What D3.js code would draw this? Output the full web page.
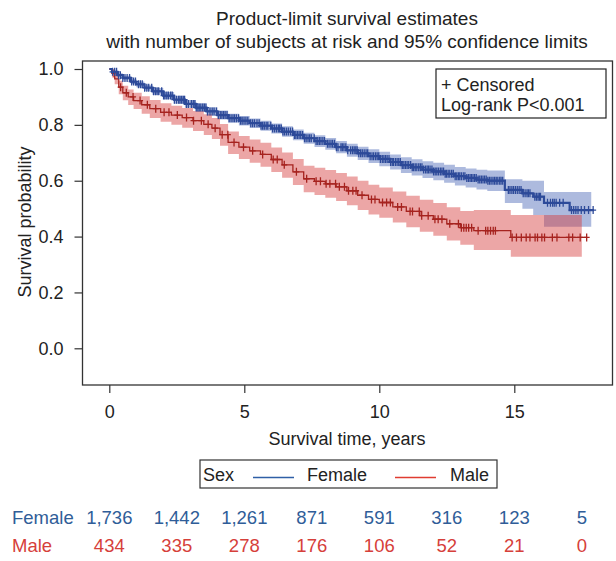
<!DOCTYPE html>
<html>
<head>
<meta charset="utf-8">
<script src="https://cdn.jsdelivr.net/npm/d3@7"></script>
<style>
body { margin: 0; background: #fff; }
text { font-family: "Liberation Sans", Arial, sans-serif; fill: #222; }
</style>
</head>
<body>
<svg width="616" height="561"></svg>
<script>
// Kaplan-Meier steps: [time, survival, lower CL, upper CL]
var femaleSteps = [
  [0, 1.0, 1.0, 1.0], [0.1, 0.99, 0.985, 0.995], [0.3, 0.978, 0.971, 0.985],
  [0.5, 0.968, 0.96, 0.976], [0.8, 0.955, 0.946, 0.964], [1.0, 0.945, 0.935, 0.955],
  [1.3, 0.933, 0.922, 0.944], [1.6, 0.92, 0.908, 0.932], [2.0, 0.905, 0.892, 0.918],
  [2.4, 0.89, 0.876, 0.904], [2.8, 0.875, 0.861, 0.889], [3.2, 0.862, 0.847, 0.877],
  [3.6, 0.848, 0.833, 0.863], [4.0, 0.835, 0.819, 0.851], [4.4, 0.824, 0.808, 0.840],
  [4.8, 0.815, 0.798, 0.832], [5.2, 0.806, 0.789, 0.823], [5.6, 0.797, 0.779, 0.815],
  [6.0, 0.787, 0.769, 0.805], [6.4, 0.776, 0.757, 0.795], [6.8, 0.764, 0.745, 0.783],
  [7.2, 0.752, 0.732, 0.772], [7.6, 0.742, 0.721, 0.763], [8.0, 0.732, 0.711, 0.753],
  [8.4, 0.72, 0.698, 0.742], [8.8, 0.709, 0.686, 0.732], [9.2, 0.698, 0.674, 0.722],
  [9.6, 0.688, 0.663, 0.713], [10.0, 0.678, 0.652, 0.704], [10.4, 0.667, 0.640, 0.694],
  [10.8, 0.656, 0.628, 0.684], [11.2, 0.648, 0.619, 0.677], [11.6, 0.640, 0.610, 0.670],
  [12.0, 0.633, 0.602, 0.664], [12.4, 0.625, 0.593, 0.657], [12.8, 0.616, 0.583, 0.649],
  [13.2, 0.610, 0.576, 0.644], [13.6, 0.604, 0.569, 0.639], [14.0, 0.600, 0.563, 0.637],
  [14.65, 0.567, 0.52, 0.605], [15.3, 0.555, 0.50, 0.60], [15.7, 0.543, 0.477, 0.60],
  [16.1, 0.521, 0.435, 0.56], [17.05, 0.495, 0.435, 0.56]
];
var femaleEnd = 17.95, femaleBandEnd = 17.85;

var maleSteps = [
  [0, 1.0, 1.0, 1.0], [0.1, 0.985, 0.97, 0.998], [0.2, 0.965, 0.945, 0.982],
  [0.35, 0.935, 0.91, 0.958], [0.5, 0.915, 0.888, 0.94], [0.7, 0.9, 0.871, 0.927],
  [0.9, 0.887, 0.857, 0.915], [1.2, 0.872, 0.84, 0.902], [1.5, 0.858, 0.825, 0.889],
  [1.9, 0.845, 0.811, 0.877], [2.3, 0.835, 0.80, 0.868], [2.7, 0.826, 0.79, 0.86],
  [3.1, 0.815, 0.778, 0.85], [3.5, 0.802, 0.764, 0.838], [3.8, 0.788, 0.749, 0.825],
  [4.1, 0.765, 0.725, 0.803], [4.4, 0.737, 0.696, 0.776], [4.8, 0.72, 0.678, 0.76],
  [5.2, 0.707, 0.664, 0.748], [5.6, 0.694, 0.65, 0.736], [6.0, 0.676, 0.631, 0.719],
  [6.4, 0.657, 0.611, 0.701], [6.8, 0.632, 0.585, 0.678], [7.2, 0.607, 0.559, 0.654],
  [7.6, 0.598, 0.549, 0.646], [8.0, 0.589, 0.539, 0.638], [8.4, 0.578, 0.527, 0.628],
  [8.8, 0.564, 0.512, 0.615], [9.2, 0.548, 0.495, 0.6], [9.6, 0.533, 0.479, 0.586],
  [10.0, 0.522, 0.467, 0.576], [10.5, 0.506, 0.45, 0.561], [11.0, 0.49, 0.433, 0.546],
  [11.5, 0.475, 0.417, 0.532], [12.0, 0.462, 0.403, 0.52], [12.5, 0.446, 0.386, 0.505],
  [13.0, 0.432, 0.371, 0.492], [13.5, 0.421, 0.352, 0.495], [14.87, 0.397, 0.328, 0.477]
];
var maleEnd = 17.68, maleBandEnd = 17.5;

var femaleCensored = [0.12, 0.2, 0.27, 0.34, 0.41, 0.5, 0.58, 0.66, 0.75, 0.83, 0.9, 0.97, 1.08, 1.15,
  1.22, 1.31, 1.39, 1.46, 1.57, 1.64, 1.71, 1.77, 1.83, 1.94, 2.01, 2.06, 2.13, 2.19, 2.27, 2.33, 2.41,
  2.49, 2.57, 2.62, 2.68, 2.74, 2.79, 2.86, 2.93, 3.04, 3.11, 3.17, 3.22, 3.28, 3.33, 3.39, 3.46, 3.52,
  3.58, 3.64, 3.73, 3.81, 3.88, 3.97, 4.04, 4.11, 4.17, 4.23, 4.29, 4.36, 4.44, 4.51, 4.58, 4.64, 4.71,
  4.79, 4.86, 4.92, 4.99, 5.06, 5.13, 5.24, 5.31, 5.38, 5.47, 5.55, 5.62, 5.68, 5.74, 5.81, 5.87, 5.98,
  6.05, 6.12, 6.19, 6.26, 6.31, 6.37, 6.43, 6.49, 6.56, 6.63, 6.71, 6.79, 6.86, 6.91, 6.97, 7.03, 7.09,
  7.16, 7.23, 7.29, 7.36, 7.42, 7.48, 7.59, 7.66, 7.72, 7.78, 7.84, 7.91, 7.97, 8.08, 8.14, 8.21, 8.27,
  8.34, 8.41, 8.47, 8.58, 8.63, 8.69, 8.76, 8.83, 8.94, 9.01, 9.07, 9.13, 9.18, 9.24, 9.31, 9.37, 9.44,
  9.51, 9.57, 9.66, 9.73, 9.79, 9.86, 9.92, 9.98, 10.04, 10.11, 10.17, 10.23, 10.29, 10.36, 10.42,
  10.48, 10.53, 10.6, 10.66, 10.72, 10.78, 10.85, 10.91, 10.97, 11.03, 11.09, 11.16, 11.22, 11.27,
  11.33, 11.39, 11.46, 11.52, 11.58, 11.64, 11.71, 11.77, 11.82, 11.88, 11.95, 12.01, 12.07, 12.13,
  12.19, 12.26, 12.32, 12.38, 12.44, 12.49, 12.55, 12.61, 12.68, 12.74, 12.81, 12.87, 12.93, 12.98,
  13.04, 13.11, 13.17, 13.24, 13.3, 13.36, 13.41, 13.47, 13.53, 13.59, 13.66, 13.72, 13.78, 13.84,
  13.9, 13.96, 14.02, 14.08, 14.14, 14.21, 14.27, 14.33, 14.39, 14.46, 14.51, 14.57, 14.78, 14.84,
  14.91, 14.97, 15.04, 15.11, 15.18, 15.25, 15.33, 15.4, 15.47, 15.52, 15.58, 15.76, 15.82, 15.88,
  15.93, 15.97, 16.23, 16.34, 16.42, 16.48, 16.55, 16.68, 16.81, 17.12, 17.2, 17.28, 17.36, 17.48,
  17.6, 17.75, 17.92];
var maleCensored = [0.18, 0.42, 0.63, 0.88, 1.14, 1.41, 1.72, 2.03, 2.21, 2.52, 2.86, 3.12, 3.41, 3.66,
  3.92, 4.18, 4.39, 4.62, 4.97, 5.31, 5.68, 6.07, 6.22, 6.48, 6.93, 7.31, 7.66, 7.82, 8.03, 8.17, 8.38,
  8.52, 8.71, 8.86, 9.02, 9.14, 9.36, 9.71, 9.84, 10.12, 10.27, 10.41, 10.68, 10.82, 11.14, 11.23,
  11.48, 11.57, 11.81, 12.06, 12.18, 12.32, 12.61, 12.93, 13.04, 13.13, 13.22, 13.31, 13.42, 13.66,
  13.94, 14.02, 14.12, 14.22, 14.3, 14.92, 15.08, 15.26, 15.44, 15.58, 15.77, 15.86, 16.02, 16.12,
  16.41, 16.58, 17.02, 17.16, 17.44, 17.68];

var xTicks = [0, 5, 10, 15];
var yTicks = [0.0, 0.2, 0.4, 0.6, 0.8, 1.0];
var riskTimes = [0, 2.5, 5, 7.5, 10, 12.5, 15, 17.5];
var femaleRisk = ["1,736", "1,442", "1,261", "871", "591", "316", "123", "5"];
var maleRisk = ["434", "335", "278", "176", "106", "52", "21", "0"];

var svg = d3.select("svg");
var pLeft = 82.5, pRight = 612.5, pTop = 61, pBottom = 385;

var x = d3.scaleLinear().domain([0, 15]).range([109.3, 514.3]);
var y = d3.scaleLinear().domain([0, 1]).range([348.3, 69]);

var groups = [
  {name: "Female", steps: femaleSteps, end: femaleEnd, bandEnd: femaleBandEnd, cens: femaleCensored,
   line: "#2d4a99", band: "#4a66b5", key: "#2f5fa6", text: "#2f5d98", risk: femaleRisk, lw: 2.2},
  {name: "Male", steps: maleSteps, end: maleEnd, bandEnd: maleBandEnd, cens: maleCensored,
   line: "#a6231f", band: "#d43a3a", key: "#e03c31", text: "#d6403a", risk: maleRisk, lw: 1.3}
];

function survAt(steps, t) {
  var s = steps[0][1];
  steps.forEach(function(d) { if (d[0] <= t) s = d[1]; });
  return s;
}

// title
svg.append("text").attr("x", 347).attr("y", 25).attr("text-anchor", "middle")
  .attr("font-size", "19px").text("Product-limit survival estimates");
svg.append("text").attr("x", 347).attr("y", 48).attr("text-anchor", "middle")
  .attr("font-size", "19px").text("with number of subjects at risk and 95% confidence limits");

svg.append("defs").append("clipPath").attr("id", "clip")
  .append("rect").attr("x", pLeft).attr("y", pTop).attr("width", pRight - pLeft).attr("height", pBottom - pTop);
var plot = svg.append("g").attr("clip-path", "url(#clip)");

// bands
groups.forEach(function(g) {
  var pts = g.steps.concat([[g.bandEnd].concat(g.steps[g.steps.length - 1].slice(1))]);
  var area = d3.area().curve(d3.curveStepAfter)
    .x(function(d) { return x(d[0]); })
    .y0(function(d) { return y(d[2]); })
    .y1(function(d) { return y(d[3]); });
  plot.append("path").attr("d", area(pts))
    .attr("fill", g.band).attr("fill-opacity", 0.45).attr("stroke", "none");
});

// curves and censor marks
groups.slice().reverse().forEach(function(g) {
  var pts = g.steps.concat([[g.end].concat(g.steps[g.steps.length - 1].slice(1))]);
  var line = d3.line().curve(d3.curveStepAfter)
    .x(function(d) { return x(d[0]); })
    .y(function(d) { return y(d[1]); });
  plot.append("path").attr("d", line(pts))
    .attr("fill", "none").attr("stroke", g.line).attr("stroke-width", g.lw);
  plot.append("g").selectAll("path").data(g.cens).enter().append("path")
    .attr("d", function(t) {
      var cx = x(t), cy = y(survAt(g.steps, t));
      return "M" + cx + "," + (cy - 4) + "V" + (cy + 4) + "M" + (cx - 3) + "," + cy + "H" + (cx + 3);
    })
    .attr("stroke", g.line).attr("stroke-width", 1.3).attr("fill", "none");
});

// frame
svg.append("rect").attr("x", pLeft).attr("y", pTop).attr("width", pRight - pLeft).attr("height", pBottom - pTop)
  .attr("fill", "none").attr("stroke", "#333").attr("stroke-width", 1.3);

// axes
var xAxis = svg.append("g").attr("transform", "translate(0," + pBottom + ")")
  .call(d3.axisBottom(x).tickValues(xTicks).tickSize(8).tickPadding(12).tickFormat(d3.format("d")));
var yAxis = svg.append("g").attr("transform", "translate(" + pLeft + ",0)")
  .call(d3.axisLeft(y).tickValues(yTicks).tickSize(8).tickPadding(11).tickFormat(d3.format(".1f")));
[xAxis, yAxis].forEach(function(a) {
  a.select(".domain").remove();
  a.selectAll(".tick line").attr("stroke", "#333").attr("stroke-width", 1.2);
  a.selectAll(".tick text").attr("font-size", "18px").attr("fill", "#222")
    .attr("font-family", "Liberation Sans, Arial, sans-serif");
});

svg.append("text").attr("x", 347).attr("y", 445).attr("text-anchor", "middle")
  .attr("font-size", "18px").text("Survival time, years");
svg.append("text").attr("transform", "translate(31,222) rotate(-90)").attr("text-anchor", "middle")
  .attr("font-size", "18px").text("Survival probability");

// censored box
svg.append("rect").attr("x", 436).attr("y", 69).attr("width", 170).attr("height", 49)
  .attr("fill", "#fff").attr("stroke", "#222").attr("stroke-width", 1.2);
svg.append("text").attr("x", 441).attr("y", 91).attr("font-size", "18px").text("+ Censored");
svg.append("text").attr("x", 441).attr("y", 111).attr("font-size", "18px").text("Log-rank P<0.001");

// legend
svg.append("rect").attr("x", 200).attr("y", 460).attr("width", 297).attr("height", 28)
  .attr("fill", "none").attr("stroke", "#333").attr("stroke-width", 1.2);
svg.append("text").attr("x", 203).attr("y", 481).attr("font-size", "18px").text("Sex");
var keyX = [[253, 294, 307], [395, 436, 450]];
groups.forEach(function(g, i) {
  svg.append("line").attr("x1", keyX[i][0]).attr("x2", keyX[i][1]).attr("y1", 477.5).attr("y2", 477.5)
    .style("stroke", g.key).style("stroke-width", "1.5px");
  svg.append("text").attr("x", keyX[i][2]).attr("y", 481).attr("font-size", "18px").text(g.name);
});

// number at risk
var rowY = [524, 552];
groups.forEach(function(g, i) {
  svg.append("text").attr("x", 12).attr("y", rowY[i]).attr("font-size", "18.5px")
    .style("fill", g.text).text(g.name);
  svg.append("g").selectAll("text").data(riskTimes).enter().append("text")
    .attr("x", function(t) { return x(t); }).attr("y", rowY[i])
    .attr("text-anchor", "middle").attr("font-size", "18.5px").style("fill", g.text)
    .text(function(t, j) { return g.risk[j]; });
});
</script>
</body>
</html>
